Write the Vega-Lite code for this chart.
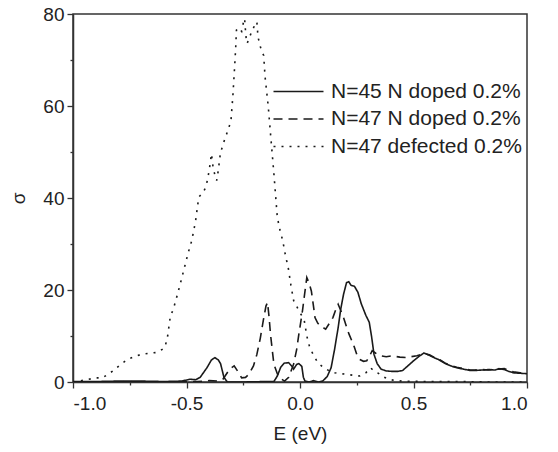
{
  "$schema": "https://vega.github.io/schema/vega-lite/v6.json",
  "width": 454,
  "height": 368,
  "autosize": {"type": "none"},
  "padding": {"left": 73, "top": 14, "right": 31, "bottom": 70},
  "background": "white",
  "config": {
    "font": "Liberation Sans",
    "view": {"stroke": "#333", "strokeWidth": 1.5},
    "axis": {"grid": false, "domainColor": "#333", "domainWidth": 1.5, "tickColor": "#333", "tickWidth": 1.3, "labelColor": "#222", "titleColor": "#222", "labelFontSize": 19, "titleFontSize": 19, "titleFontWeight": "normal", "labelOverlap": false}
  },
  "data": {"values": [
    {"s":"N=45 N doped 0.2%","e":-1,"v":0.1},{"s":"N=45 N doped 0.2%","e":-0.9,"v":0.1},{"s":"N=45 N doped 0.2%","e":-0.8,"v":0.2},{"s":"N=45 N doped 0.2%","e":-0.7,"v":0.2},{"s":"N=45 N doped 0.2%","e":-0.6,"v":0.1},{"s":"N=45 N doped 0.2%","e":-0.52,"v":0.2},{"s":"N=45 N doped 0.2%","e":-0.485,"v":0.6},{"s":"N=45 N doped 0.2%","e":-0.46,"v":0.5},{"s":"N=45 N doped 0.2%","e":-0.44,"v":1.0},{"s":"N=45 N doped 0.2%","e":-0.41,"v":3.1},{"s":"N=45 N doped 0.2%","e":-0.39,"v":4.8},{"s":"N=45 N doped 0.2%","e":-0.375,"v":5.3},{"s":"N=45 N doped 0.2%","e":-0.36,"v":4.8},{"s":"N=45 N doped 0.2%","e":-0.35,"v":4.0},{"s":"N=45 N doped 0.2%","e":-0.335,"v":1.0},{"s":"N=45 N doped 0.2%","e":-0.32,"v":0},{"s":"N=45 N doped 0.2%","e":-0.25,"v":0},{"s":"N=45 N doped 0.2%","e":-0.15,"v":0.1},{"s":"N=45 N doped 0.2%","e":-0.115,"v":0.1},{"s":"N=45 N doped 0.2%","e":-0.1,"v":1.3},{"s":"N=45 N doped 0.2%","e":-0.085,"v":3.2},{"s":"N=45 N doped 0.2%","e":-0.07,"v":4.1},{"s":"N=45 N doped 0.2%","e":-0.05,"v":4.2},{"s":"N=45 N doped 0.2%","e":-0.035,"v":3.4},{"s":"N=45 N doped 0.2%","e":-0.028,"v":2.8},{"s":"N=45 N doped 0.2%","e":-0.015,"v":3.8},{"s":"N=45 N doped 0.2%","e":-0.005,"v":4.0},{"s":"N=45 N doped 0.2%","e":0.008,"v":3.4},{"s":"N=45 N doped 0.2%","e":0.015,"v":1.0},{"s":"N=45 N doped 0.2%","e":0.022,"v":0.2},{"s":"N=45 N doped 0.2%","e":0.04,"v":0},{"s":"N=45 N doped 0.2%","e":0.06,"v":0.3},{"s":"N=45 N doped 0.2%","e":0.08,"v":0},{"s":"N=45 N doped 0.2%","e":0.1,"v":0.2},{"s":"N=45 N doped 0.2%","e":0.12,"v":1.2},{"s":"N=45 N doped 0.2%","e":0.137,"v":3.1},{"s":"N=45 N doped 0.2%","e":0.152,"v":7},{"s":"N=45 N doped 0.2%","e":0.168,"v":11.8},{"s":"N=45 N doped 0.2%","e":0.18,"v":16},{"s":"N=45 N doped 0.2%","e":0.192,"v":19.1},{"s":"N=45 N doped 0.2%","e":0.205,"v":21.6},{"s":"N=45 N doped 0.2%","e":0.215,"v":21.8},{"s":"N=45 N doped 0.2%","e":0.225,"v":21.0},{"s":"N=45 N doped 0.2%","e":0.24,"v":20.8},{"s":"N=45 N doped 0.2%","e":0.255,"v":19.5},{"s":"N=45 N doped 0.2%","e":0.27,"v":17},{"s":"N=45 N doped 0.2%","e":0.29,"v":14.5},{"s":"N=45 N doped 0.2%","e":0.305,"v":13},{"s":"N=45 N doped 0.2%","e":0.315,"v":10},{"s":"N=45 N doped 0.2%","e":0.326,"v":6},{"s":"N=45 N doped 0.2%","e":0.34,"v":4},{"s":"N=45 N doped 0.2%","e":0.357,"v":2.8},{"s":"N=45 N doped 0.2%","e":0.38,"v":2.4},{"s":"N=45 N doped 0.2%","e":0.405,"v":2.3},{"s":"N=45 N doped 0.2%","e":0.43,"v":2.3},{"s":"N=45 N doped 0.2%","e":0.452,"v":2.5},{"s":"N=45 N doped 0.2%","e":0.475,"v":3.5},{"s":"N=45 N doped 0.2%","e":0.5,"v":4.6},{"s":"N=45 N doped 0.2%","e":0.525,"v":5.6},{"s":"N=45 N doped 0.2%","e":0.546,"v":6.3},{"s":"N=45 N doped 0.2%","e":0.57,"v":5.8},{"s":"N=45 N doped 0.2%","e":0.59,"v":5.3},{"s":"N=45 N doped 0.2%","e":0.61,"v":4.9},{"s":"N=45 N doped 0.2%","e":0.64,"v":4.0},{"s":"N=45 N doped 0.2%","e":0.67,"v":3.4},{"s":"N=45 N doped 0.2%","e":0.69,"v":3.1},{"s":"N=45 N doped 0.2%","e":0.72,"v":2.8},{"s":"N=45 N doped 0.2%","e":0.75,"v":2.5},{"s":"N=45 N doped 0.2%","e":0.77,"v":2.5},{"s":"N=45 N doped 0.2%","e":0.8,"v":2.6},{"s":"N=45 N doped 0.2%","e":0.83,"v":2.7},{"s":"N=45 N doped 0.2%","e":0.86,"v":2.6},{"s":"N=45 N doped 0.2%","e":0.877,"v":2.9},{"s":"N=45 N doped 0.2%","e":0.9,"v":2.7},{"s":"N=45 N doped 0.2%","e":0.92,"v":2.3},{"s":"N=45 N doped 0.2%","e":0.94,"v":2.0},{"s":"N=45 N doped 0.2%","e":0.97,"v":1.9},{"s":"N=45 N doped 0.2%","e":1.0,"v":1.8},
    {"s":"N=47 N doped 0.2%","e":-1,"v":0},{"s":"N=47 N doped 0.2%","e":-0.8,"v":0},{"s":"N=47 N doped 0.2%","e":-0.6,"v":0},{"s":"N=47 N doped 0.2%","e":-0.45,"v":0.1},{"s":"N=47 N doped 0.2%","e":-0.4,"v":0.3},{"s":"N=47 N doped 0.2%","e":-0.36,"v":0.2},{"s":"N=47 N doped 0.2%","e":-0.34,"v":0.6},{"s":"N=47 N doped 0.2%","e":-0.33,"v":1.3},{"s":"N=47 N doped 0.2%","e":-0.31,"v":2.8},{"s":"N=47 N doped 0.2%","e":-0.29,"v":3.5},{"s":"N=47 N doped 0.2%","e":-0.27,"v":2.0},{"s":"N=47 N doped 0.2%","e":-0.257,"v":0.9},{"s":"N=47 N doped 0.2%","e":-0.24,"v":1.0},{"s":"N=47 N doped 0.2%","e":-0.225,"v":1.7},{"s":"N=47 N doped 0.2%","e":-0.205,"v":3.5},{"s":"N=47 N doped 0.2%","e":-0.19,"v":6},{"s":"N=47 N doped 0.2%","e":-0.175,"v":9.5},{"s":"N=47 N doped 0.2%","e":-0.162,"v":13.3},{"s":"N=47 N doped 0.2%","e":-0.15,"v":16.5},{"s":"N=47 N doped 0.2%","e":-0.143,"v":17.3},{"s":"N=47 N doped 0.2%","e":-0.136,"v":14},{"s":"N=47 N doped 0.2%","e":-0.13,"v":10.4},{"s":"N=47 N doped 0.2%","e":-0.12,"v":6},{"s":"N=47 N doped 0.2%","e":-0.115,"v":3.9},{"s":"N=47 N doped 0.2%","e":-0.1,"v":1.8},{"s":"N=47 N doped 0.2%","e":-0.09,"v":0.9},{"s":"N=47 N doped 0.2%","e":-0.068,"v":0.2},{"s":"N=47 N doped 0.2%","e":-0.05,"v":1.0},{"s":"N=47 N doped 0.2%","e":-0.028,"v":3.9},{"s":"N=47 N doped 0.2%","e":-0.015,"v":7},{"s":"N=47 N doped 0.2%","e":-0.005,"v":10.4},{"s":"N=47 N doped 0.2%","e":0.011,"v":15.5},{"s":"N=47 N doped 0.2%","e":0.02,"v":19},{"s":"N=47 N doped 0.2%","e":0.03,"v":22.7},{"s":"N=47 N doped 0.2%","e":0.04,"v":21.5},{"s":"N=47 N doped 0.2%","e":0.05,"v":19.8},{"s":"N=47 N doped 0.2%","e":0.058,"v":17},{"s":"N=47 N doped 0.2%","e":0.066,"v":14},{"s":"N=47 N doped 0.2%","e":0.078,"v":12.8},{"s":"N=47 N doped 0.2%","e":0.09,"v":12.2},{"s":"N=47 N doped 0.2%","e":0.113,"v":11.5},{"s":"N=47 N doped 0.2%","e":0.13,"v":12.8},{"s":"N=47 N doped 0.2%","e":0.145,"v":14},{"s":"N=47 N doped 0.2%","e":0.158,"v":15.8},{"s":"N=47 N doped 0.2%","e":0.168,"v":16.9},{"s":"N=47 N doped 0.2%","e":0.18,"v":15.5},{"s":"N=47 N doped 0.2%","e":0.192,"v":14},{"s":"N=47 N doped 0.2%","e":0.205,"v":12},{"s":"N=47 N doped 0.2%","e":0.216,"v":10.4},{"s":"N=47 N doped 0.2%","e":0.228,"v":9},{"s":"N=47 N doped 0.2%","e":0.24,"v":7.5},{"s":"N=47 N doped 0.2%","e":0.25,"v":6},{"s":"N=47 N doped 0.2%","e":0.263,"v":4.9},{"s":"N=47 N doped 0.2%","e":0.28,"v":4.5},{"s":"N=47 N doped 0.2%","e":0.294,"v":4.6},{"s":"N=47 N doped 0.2%","e":0.308,"v":5.8},{"s":"N=47 N doped 0.2%","e":0.318,"v":6.8},{"s":"N=47 N doped 0.2%","e":0.335,"v":6.2},{"s":"N=47 N doped 0.2%","e":0.357,"v":5.7},{"s":"N=47 N doped 0.2%","e":0.38,"v":5.5},{"s":"N=47 N doped 0.2%","e":0.405,"v":5.7},{"s":"N=47 N doped 0.2%","e":0.44,"v":5.4},{"s":"N=47 N doped 0.2%","e":0.468,"v":5.3},{"s":"N=47 N doped 0.2%","e":0.49,"v":5.5},{"s":"N=47 N doped 0.2%","e":0.515,"v":5.7},{"s":"N=47 N doped 0.2%","e":0.546,"v":6.2},{"s":"N=47 N doped 0.2%","e":0.57,"v":5.9},{"s":"N=47 N doped 0.2%","e":0.59,"v":5.4},{"s":"N=47 N doped 0.2%","e":0.61,"v":5.0},{"s":"N=47 N doped 0.2%","e":0.64,"v":4.1},{"s":"N=47 N doped 0.2%","e":0.67,"v":3.5},{"s":"N=47 N doped 0.2%","e":0.69,"v":3.2},{"s":"N=47 N doped 0.2%","e":0.72,"v":2.9},{"s":"N=47 N doped 0.2%","e":0.75,"v":2.6},{"s":"N=47 N doped 0.2%","e":0.77,"v":2.6},{"s":"N=47 N doped 0.2%","e":0.8,"v":2.7},{"s":"N=47 N doped 0.2%","e":0.83,"v":2.6},{"s":"N=47 N doped 0.2%","e":0.86,"v":2.8},{"s":"N=47 N doped 0.2%","e":0.877,"v":2.8},{"s":"N=47 N doped 0.2%","e":0.9,"v":2.9},{"s":"N=47 N doped 0.2%","e":0.92,"v":2.5},{"s":"N=47 N doped 0.2%","e":0.94,"v":2.2},{"s":"N=47 N doped 0.2%","e":0.97,"v":2.0},{"s":"N=47 N doped 0.2%","e":1.0,"v":1.9},
    {"s":"N=47 defected 0.2%","e":-1,"v":0},{"s":"N=47 defected 0.2%","e":-0.95,"v":0.4},{"s":"N=47 defected 0.2%","e":-0.9,"v":0.9},{"s":"N=47 defected 0.2%","e":-0.87,"v":0.9},{"s":"N=47 defected 0.2%","e":-0.824,"v":2.4},{"s":"N=47 defected 0.2%","e":-0.79,"v":3.8},{"s":"N=47 defected 0.2%","e":-0.76,"v":4.9},{"s":"N=47 defected 0.2%","e":-0.73,"v":5.5},{"s":"N=47 defected 0.2%","e":-0.7,"v":6},{"s":"N=47 defected 0.2%","e":-0.67,"v":6.2},{"s":"N=47 defected 0.2%","e":-0.635,"v":6.4},{"s":"N=47 defected 0.2%","e":-0.61,"v":7},{"s":"N=47 defected 0.2%","e":-0.595,"v":7.5},{"s":"N=47 defected 0.2%","e":-0.583,"v":10},{"s":"N=47 defected 0.2%","e":-0.572,"v":14},{"s":"N=47 defected 0.2%","e":-0.556,"v":16.2},{"s":"N=47 defected 0.2%","e":-0.54,"v":19},{"s":"N=47 defected 0.2%","e":-0.524,"v":22},{"s":"N=47 defected 0.2%","e":-0.509,"v":24.9},{"s":"N=47 defected 0.2%","e":-0.493,"v":28},{"s":"N=47 defected 0.2%","e":-0.477,"v":30.7},{"s":"N=47 defected 0.2%","e":-0.46,"v":35},{"s":"N=47 defected 0.2%","e":-0.446,"v":40.2},{"s":"N=47 defected 0.2%","e":-0.43,"v":41},{"s":"N=47 defected 0.2%","e":-0.414,"v":42.4},{"s":"N=47 defected 0.2%","e":-0.4,"v":46},{"s":"N=47 defected 0.2%","e":-0.39,"v":49.6},{"s":"N=47 defected 0.2%","e":-0.383,"v":46.7},{"s":"N=47 defected 0.2%","e":-0.375,"v":45},{"s":"N=47 defected 0.2%","e":-0.367,"v":43.8},{"s":"N=47 defected 0.2%","e":-0.36,"v":46},{"s":"N=47 defected 0.2%","e":-0.351,"v":49.6},{"s":"N=47 defected 0.2%","e":-0.34,"v":51.5},{"s":"N=47 defected 0.2%","e":-0.328,"v":53.3},{"s":"N=47 defected 0.2%","e":-0.315,"v":55},{"s":"N=47 defected 0.2%","e":-0.304,"v":56.9},{"s":"N=47 defected 0.2%","e":-0.296,"v":62},{"s":"N=47 defected 0.2%","e":-0.288,"v":68.5},{"s":"N=47 defected 0.2%","e":-0.283,"v":73},{"s":"N=47 defected 0.2%","e":-0.28,"v":76.5},{"s":"N=47 defected 0.2%","e":-0.27,"v":77},{"s":"N=47 defected 0.2%","e":-0.257,"v":76.2},{"s":"N=47 defected 0.2%","e":-0.25,"v":78},{"s":"N=47 defected 0.2%","e":-0.244,"v":79},{"s":"N=47 defected 0.2%","e":-0.238,"v":75},{"s":"N=47 defected 0.2%","e":-0.233,"v":73.6},{"s":"N=47 defected 0.2%","e":-0.222,"v":75},{"s":"N=47 defected 0.2%","e":-0.21,"v":76.5},{"s":"N=47 defected 0.2%","e":-0.2,"v":77.5},{"s":"N=47 defected 0.2%","e":-0.19,"v":78.3},{"s":"N=47 defected 0.2%","e":-0.185,"v":75},{"s":"N=47 defected 0.2%","e":-0.178,"v":73.6},{"s":"N=47 defected 0.2%","e":-0.17,"v":72},{"s":"N=47 defected 0.2%","e":-0.16,"v":71},{"s":"N=47 defected 0.2%","e":-0.154,"v":66.4},{"s":"N=47 defected 0.2%","e":-0.14,"v":60},{"s":"N=47 defected 0.2%","e":-0.13,"v":54},{"s":"N=47 defected 0.2%","e":-0.115,"v":45.3},{"s":"N=47 defected 0.2%","e":-0.1,"v":35.8},{"s":"N=47 defected 0.2%","e":-0.088,"v":33},{"s":"N=47 defected 0.2%","e":-0.076,"v":30.7},{"s":"N=47 defected 0.2%","e":-0.064,"v":27.5},{"s":"N=47 defected 0.2%","e":-0.052,"v":24.9},{"s":"N=47 defected 0.2%","e":-0.04,"v":21},{"s":"N=47 defected 0.2%","e":-0.028,"v":17.7},{"s":"N=47 defected 0.2%","e":-0.015,"v":16.5},{"s":"N=47 defected 0.2%","e":-0.005,"v":15.5},{"s":"N=47 defected 0.2%","e":0.007,"v":14.5},{"s":"N=47 defected 0.2%","e":0.019,"v":13.3},{"s":"N=47 defected 0.2%","e":0.03,"v":10},{"s":"N=47 defected 0.2%","e":0.043,"v":7.5},{"s":"N=47 defected 0.2%","e":0.058,"v":6},{"s":"N=47 defected 0.2%","e":0.074,"v":4.6},{"s":"N=47 defected 0.2%","e":0.09,"v":3.7},{"s":"N=47 defected 0.2%","e":0.105,"v":3.1},{"s":"N=47 defected 0.2%","e":0.13,"v":2.4},{"s":"N=47 defected 0.2%","e":0.153,"v":2},{"s":"N=47 defected 0.2%","e":0.18,"v":1.8},{"s":"N=47 defected 0.2%","e":0.2,"v":1.7},{"s":"N=47 defected 0.2%","e":0.23,"v":1.5},{"s":"N=47 defected 0.2%","e":0.263,"v":1.3},{"s":"N=47 defected 0.2%","e":0.29,"v":2.0},{"s":"N=47 defected 0.2%","e":0.31,"v":3.1},{"s":"N=47 defected 0.2%","e":0.325,"v":2.5},{"s":"N=47 defected 0.2%","e":0.342,"v":2},{"s":"N=47 defected 0.2%","e":0.365,"v":1.2},{"s":"N=47 defected 0.2%","e":0.39,"v":0.6},{"s":"N=47 defected 0.2%","e":0.42,"v":0.3},{"s":"N=47 defected 0.2%","e":0.452,"v":0.2},{"s":"N=47 defected 0.2%","e":0.55,"v":0.1},{"s":"N=47 defected 0.2%","e":0.7,"v":0.1},{"s":"N=47 defected 0.2%","e":0.85,"v":0},{"s":"N=47 defected 0.2%","e":1.0,"v":0}
  ]},
  "mark": {"type": "line", "color": "#1a1a1a", "strokeWidth": 1.6, "clip": true},
  "encoding": {
    "x": {"field": "e", "type": "quantitative",
      "scale": {"domain": [-1, 1], "nice": false, "zero": false},
      "axis": {"title": "E (eV)", "values": [-1, -0.75, -0.5, -0.25, 0, 0.25, 0.5, 0.75, 1],
        "labelExpr": "abs(datum.value*2-round(datum.value*2))>0.01 ? '' : replace(format(datum.value, '.1f'), '\u2212', '-')",
        "tickSize": {"condition": {"test": "abs(datum.value*2-round(datum.value*2))>0.01", "value": 3}, "value": 6},
        "labelPadding": 6, "titlePadding": 11}},
    "y": {"field": "v", "type": "quantitative",
      "scale": {"domain": [0, 80], "nice": false},
      "axis": {"title": "σ", "values": [0, 10, 20, 30, 40, 50, 60, 70, 80],
        "labelExpr": "datum.value % 20 == 0 ? format(datum.value, 'd') : ''",
        "tickSize": {"condition": {"test": "datum.value % 20 != 0", "value": 3}, "value": 6},
        "labelPadding": 3, "titlePadding": 14}},
    "strokeDash": {"field": "s", "type": "nominal",
      "scale": {"domain": ["N=45 N doped 0.2%", "N=47 N doped 0.2%", "N=47 defected 0.2%"], "range": [[1, 0], [9, 6], [2, 6]]},
      "legend": {"title": null, "orient": "none", "legendX": 215, "legendY": 67, "padding": 0, "symbolType": "M-5,0H5", "symbolSize": 100, "symbolStrokeWidth": 1.6, "symbolStrokeColor": "#1a1a1a", "symbolFillColor": "transparent", "labelFontSize": 21, "labelColor": "#222", "labelOffset": 22, "rowPadding": 5.5, "labelLimit": 300}}
  }
}
